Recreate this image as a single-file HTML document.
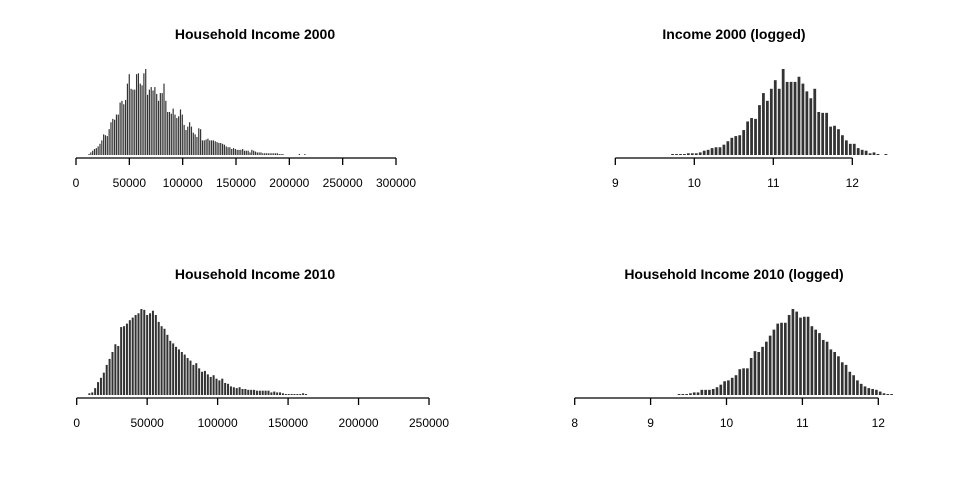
<!DOCTYPE html>
<html><head><meta charset="utf-8">
<style>
html,body{margin:0;padding:0;background:#fff;}
svg{display:block;font-family:"Liberation Sans",Arial,sans-serif;}
</style></head>
<body>
<svg id="c" width="960" height="480" xmlns="http://www.w3.org/2000/svg"></svg>
<script>
// Panel 1: Household Income 2000 (bin centers start, bin width in dollars)
const inc2000Start = 12200;
const inc2000Width = 1715;
const inc2000Counts = [1,3,5,7,8,10,13,17,24,23,22,30,38,42,41,47,47,61,63,59,64,83,94,77,76,76,94,95,83,81,95,100,70,76,79,75,79,71,63,72,72,83,63,50,50,48,54,47,43,45,53,47,35,29,33,38,33,26,24,21,31,30,17,17,18,19,17,17,17,16,15,14,14,13,12,10,9,9,7,8,7,6,6,6,7,5,5,5,3,6,5,4,3,3,3,2,2,2,2,2,2,2,2,2,1,1,1,0,0,0,0,0,0,0,0,1,0,0,1];
const inc2000Ticks = [0,50000,100000,150000,200000,250000,300000];

// Panel 2: Income 2000 (logged)
const log2000Start = 9.725;
const log2000Width = 0.05;
const log2000Counts = [1,1,1,1,2,2,2,3,5,6,8,9,9,12,16,20,22,23,29,39,43,42,58,72,63,77,87,77,100,85,85,85,91,83,74,66,77,50,49,49,33,34,30,23,17,13,13,8,6,5,2,3,1,0,1];
const log2000Ticks = [9,10,11,12];

// Panel 3: Household Income 2010
const inc2010Start = 9000;
const inc2010Width = 2050;
const inc2010Counts = [2,3,8,15,20,26,35,42,50,59,57,79,80,83,87,90,93,95,100,99,93,95,98,93,85,80,77,70,63,60,56,53,50,47,43,40,35,37,31,27,28,24,21,23,19,17,19,14,13,10,9,8,9,7,7,6,6,6,5,5,5,5,5,3,4,3,3,2,1,1,1,1,1,1,2,1];
const inc2010Ticks = [0,50000,100000,150000,200000,250000];

// Panel 4: Household Income 2010 (logged)
const log2010Start = 9.375;
const log2010Width = 0.05;
const log2010Counts = [1,1,1,2,3,3,6,6,6,7,9,12,16,17,20,23,30,31,31,43,51,50,56,62,69,76,83,84,84,93,100,97,90,91,91,80,76,72,64,62,53,50,45,38,35,27,23,17,13,10,8,7,6,4,2,1,1];
const log2010Ticks = [8,9,10,11,12];

const svg = document.getElementById('c');
const NS = 'http://www.w3.org/2000/svg';
function mk(tag, attrs){ const e=document.createElementNS(NS,tag); for(const k in attrs) e.setAttribute(k,attrs[k]); svg.appendChild(e); return e; }

function panel(opts){
  const {id,title,titleX,titleY,axisY,x0,v0,x1,v1,start,width,counts,ticks,frac} = opts;
  const sx = v => x0 + (v - v0) * (x1 - x0) / (v1 - v0);
  const base = axisY - 3, maxH = 86;
  const maxC = Math.max(...counts);
  const sy = c => c / maxC * maxH;
  const t = mk('text',{x:titleX,y:titleY,'text-anchor':'middle','font-size':'14','font-weight':'bold',fill:'#000'});
  t.textContent = title;
  
  
  const binPx = width * (x1 - x0) / (v1 - v0);
  const bw = binPx * frac;
  counts.forEach((c,i)=>{
    if(c<=0) return;
    const cx = sx(start + i*width);
    const h = Math.max(sy(c), 1);
    const r = mk('rect',{x:(cx-bw/2).toFixed(2),y:(base-h).toFixed(2),width:bw.toFixed(2),height:h.toFixed(2),fill:'#333'});
    
    
  });
  const ax = mk('line',{x1:sx(ticks[0]),x2:sx(ticks[ticks.length-1]),y1:axisY,y2:axisY,stroke:'#000','stroke-width':1.3});
  
  
  ticks.forEach(v=>{
    const x = sx(v);
    const tk = mk('line',{x1:x,x2:x,y1:axisY,y2:axisY+7,stroke:'#000','stroke-width':1.3});
    
    
    const lb = mk('text',{x:x,y:axisY+29,'text-anchor':'middle','font-size':'12',fill:'#000'});
    lb.textContent = String(v);
    
    
  });
}

panel({id:'income-2000',title:'Household Income 2000',titleX:255,titleY:39,axisY:158,x0:76,v0:0,x1:396,v1:300000,start:inc2000Start,width:inc2000Width,counts:inc2000Counts,ticks:inc2000Ticks,frac:0.65});
panel({id:'income-2000-logged',title:'Income 2000 (logged)',titleX:734,titleY:39,axisY:158,x0:615.3,v0:9,x1:852.3,v1:12,start:log2000Start,width:log2000Width,counts:log2000Counts,ticks:log2000Ticks,frac:0.7});
panel({id:'income-2010',title:'Household Income 2010',titleX:255,titleY:279,axisY:398,x0:76.7,v0:0,x1:429,v1:250000,start:inc2010Start,width:inc2010Width,counts:inc2010Counts,ticks:inc2010Ticks,frac:0.7});
panel({id:'income-2010-logged',title:'Household Income 2010 (logged)',titleX:734,titleY:279,axisY:398,x0:574.7,v0:8,x1:878.3,v1:12,start:log2010Start,width:log2010Width,counts:log2010Counts,ticks:log2010Ticks,frac:0.7});
</script>
</body></html>
